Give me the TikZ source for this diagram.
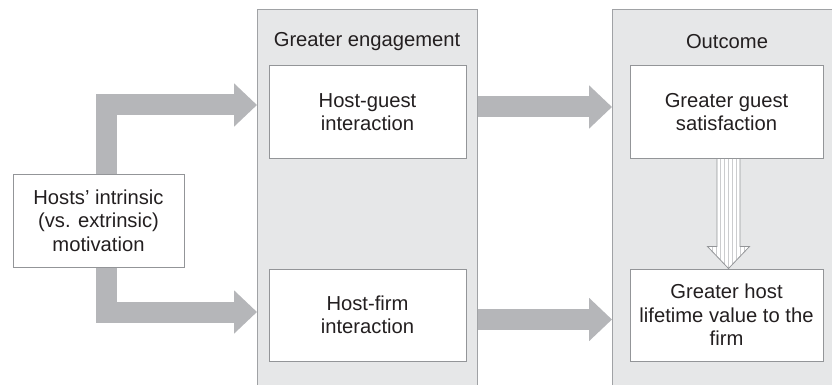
\documentclass[tikz,border=0pt]{standalone}
\usepackage{fontspec}
\setmainfont{Liberation Sans}
\usepackage{tikz}
\usetikzlibrary{arrows.meta, positioning}

\definecolor{arrowgray}{RGB}{181,182,185}
\definecolor{panelfill}{RGB}{230,231,232}
\definecolor{panelline}{RGB}{160,162,165}
\definecolor{boxline}{RGB}{147,149,152}
\definecolor{textgray}{RGB}{35,31,32}

\begin{document}
\begin{tikzpicture}[x=1pt, y=-1pt, line join=miter,
    panel/.style={draw=panelline, fill=panelfill, line width=1pt, inner sep=0pt, anchor=north west},
    box/.style={draw=boxline, fill=white, line width=1pt, inner sep=0pt, align=center, minimum height=92pt},
    fatarrow/.style={draw=arrowgray, line width=21pt, -{Triangle[length=23pt, width=42pt]}},
    hollow/.style={draw=boxline, line width=0.8pt},
    stripe/.style={draw=arrowgray!70, line width=0.6pt},
    font=\fontsize{20.2}{23.5}\selectfont, text=textgray]

    \useasboundingbox (0,0) rectangle (832,385);
    \clip (0,0) rectangle (832,385);

    % 两个灰色面板
    \node[panel, minimum width=220pt, minimum height=400pt] (engage) at (257,9) {};
    \node[panel, minimum width=240pt, minimum height=400pt] (outcome) at (612,9) {};
    \node (engtitle) at (367,42) {Greater engagement};
    \node (outtitle) at (727,42) {Outcome};

    % 方框
    \node[box, minimum width=171pt, minimum height=93pt] (motive) at (98.5,220.5) {Hosts’ intrinsic\\(vs. extrinsic)\\motivation};
    \node[box, minimum width=197pt] (guest) at (367.5,112) {Host-guest\\interaction};
    \node[box, minimum width=197pt] (firm) at (367.5,315) {Host-firm\\interaction};
    \node[box, minimum width=193pt] (sat) at (726.5,112) {Greater guest\\satisfaction};
    \node[box, minimum width=193pt] (life) at (726.5,315) {Greater host\\lifetime value to the\\firm};

    % 粗箭头
    \coordinate (in1) at (engage.west |- guest.west);
    \coordinate (in2) at (engage.west |- firm.west);
    \coordinate (out1) at (engage.east |- guest.east);
    \coordinate (out2) at (engage.east |- firm.east);
    \coordinate (end1) at (outcome.west |- sat.west);
    \coordinate (end2) at (outcome.west |- life.west);
    \draw[fatarrow] ([xshift=7.5pt]motive.north) |- ([yshift=7pt]in1);
    \draw[fatarrow] ([xshift=7.5pt]motive.south) |- ([yshift=3pt]in2);
    \draw[fatarrow] ([yshift=5pt]out1) -- ([yshift=5pt]end1);
    \draw[fatarrow] ([yshift=-4.5pt]out2) -- ([yshift=-4.5pt]end2);

    % 条纹空心箭头
    \coordinate (hs) at ([xshift=2pt]sat.south);
    \coordinate (ht) at ([xshift=2pt]life.north);
    \begin{scope}
        \clip ([xshift=-11.5pt]hs) -- ([xshift=-11.5pt,yshift=22pt]ht) -- ([xshift=-21pt,yshift=22pt]ht)
            -- (ht) -- ([xshift=21pt,yshift=22pt]ht) -- ([xshift=11.5pt,yshift=22pt]ht) -- ([xshift=11.5pt]hs) -- cycle;
        \fill[white] ([xshift=-30pt]hs) rectangle ([xshift=30pt]ht);
        \foreach \dx in {-16,-12,...,16}
            \draw[stripe] ([xshift=\dx pt]hs) -- ([xshift=\dx pt]ht);
    \end{scope}
    \draw[hollow] ([xshift=-11.5pt]hs) -- ([xshift=-11.5pt,yshift=22pt]ht) -- ([xshift=-21pt,yshift=22pt]ht)
        -- (ht) -- ([xshift=21pt,yshift=22pt]ht) -- ([xshift=11.5pt,yshift=22pt]ht) -- ([xshift=11.5pt]hs);

\end{tikzpicture}
\end{document}
